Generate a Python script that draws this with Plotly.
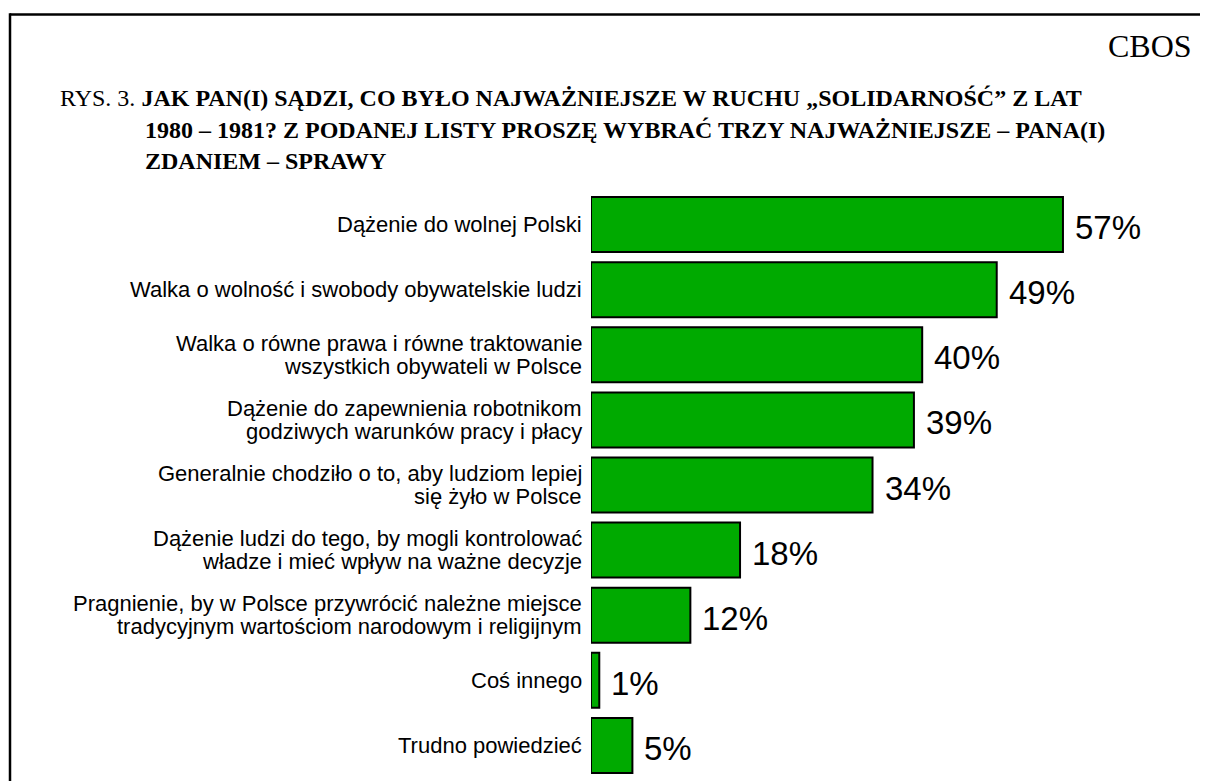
import plotly.graph_objects as go

# ---- data ----
labels = [
    "Dążenie do wolnej Polski",
    "Walka o wolność i swobody obywatelskie ludzi",
    "Walka o równe prawa i równe traktowanie<br>wszystkich obywateli w Polsce",
    "Dążenie do zapewnienia robotnikom<br>godziwych warunków pracy i płacy",
    "Generalnie chodziło o to, aby ludziom lepiej<br>się żyło w Polsce",
    "Dążenie ludzi do tego, by mogli kontrolować<br>władze i mieć wpływ na ważne decyzje",
    "Pragnienie, by w Polsce przywrócić należne miejsce<br>tradycyjnym wartościom narodowym i religijnym",
    "Coś innego",
    "Trudno powiedzieć",
]
values = [57, 49, 40, 39, 34, 18, 12, 1, 5]
value_texts = ["57%", "49%", "40%", "39%", "34%", "18%", "12%", "1%", "5%"]

title_prefix = "RYS. 3. "
title_lines = [
    "JAK PAN(I) SĄDZI, CO BYŁO NAJWAŻNIEJSZE W RUCHU „SOLIDARNOŚĆ” Z LAT",
    "1980 – 1981? Z PODANEJ LISTY PROSZĘ WYBRAĆ TRZY NAJWAŻNIEJSZE – PANA(I)",
    "ZDANIEM – SPRAWY",
]
source_text = "CBOS"

# ---- layout geometry (pixels, reference coordinates) ----
OFF = 8  # page body margin
W, H = 1208 - OFF, 781 - OFF
ML, MR = 591 - OFF, 8
MT, MB = 192 - OFF, 3
PW = W - ML - MR
PH = H - MT - MB
PX_PER_UNIT = 8.28


def px_x(px):
    return (px - OFF - ML) / PW


def px_y(py):
    return (H - MB - (py - OFF)) / PH


cats = list(range(len(labels)))

fig = go.Figure()
fig.add_trace(go.Bar(
    x=values,
    y=cats,
    orientation="h",
    marker=dict(color="#00AA00", line=dict(color="#000000", width=2)),
    hoverinfo="skip",
))

annotations = []
SANS = "Liberation Sans, Arial, sans-serif"
SERIF = "Liberation Serif, Times New Roman, serif"

# category labels (each line placed separately for tight line spacing)
LINE_GAP = 23
for i, lab in enumerate(labels):
    parts = lab.split("<br>")
    n = len(parts)
    for j, p in enumerate(parts):
        off = (j - (n - 1) / 2) * LINE_GAP
        annotations.append(dict(
            x=0, y=i, xref="x", yref="y", text=p, showarrow=False,
            xanchor="right", yanchor="middle", xshift=-7, yshift=-off,
            font=dict(family=SANS, size=22, color="#000000"),
        ))

# value labels
for i, (v, t) in enumerate(zip(values, value_texts)):
    annotations.append(dict(
        x=v, y=i, xref="x", yref="y", text=t, showarrow=False,
        xanchor="left", yanchor="middle", xshift=10, yshift=-3,
        font=dict(family=SANS, size=33, color="#000000"),
    ))

# title
annotations.append(dict(
    x=px_x(58), y=px_y(98), xref="paper", yref="paper",
    text=title_prefix + "<b>" + title_lines[0] + "</b>", showarrow=False,
    xanchor="left", yanchor="middle",
    font=dict(family=SERIF, size=24, color="#000000"),
))
for k, ly in zip([1, 2], [130, 161]):
    annotations.append(dict(
        x=px_x(143), y=px_y(ly), xref="paper", yref="paper",
        text="<b>" + title_lines[k] + "</b>", showarrow=False,
        xanchor="left", yanchor="middle",
        font=dict(family=SERIF, size=24, color="#000000"),
    ))

annotations.append(dict(
    x=px_x(1194), y=px_y(46), xref="paper", yref="paper",
    text=source_text, showarrow=False, xanchor="right", yanchor="middle",
    font=dict(family=SERIF, size=32, color="#000000"),
))

shapes = [
    dict(type="line", xref="paper", yref="paper",
         x0=px_x(10), x1=px_x(1210), y0=px_y(14.5), y1=px_y(14.5),
         line=dict(color="#000000", width=2.5)),
    dict(type="line", xref="paper", yref="paper",
         x0=px_x(10), x1=px_x(10), y0=px_y(13.3), y1=px_y(790),
         line=dict(color="#000000", width=2.5)),
]

fig.update_layout(
    width=W, height=H,
    margin=dict(l=ML, r=MR, t=MT, b=MB, pad=0),
    paper_bgcolor="#FFFFFF", plot_bgcolor="#FFFFFF",
    showlegend=False,
    bargap=0.155,
    xaxis=dict(range=[0, PW / PX_PER_UNIT], visible=False, fixedrange=True),
    yaxis=dict(range=[len(labels) - 0.5, -0.5], visible=False, fixedrange=True),
    annotations=annotations,
    shapes=shapes,
)

fig.write_html("out.html")
